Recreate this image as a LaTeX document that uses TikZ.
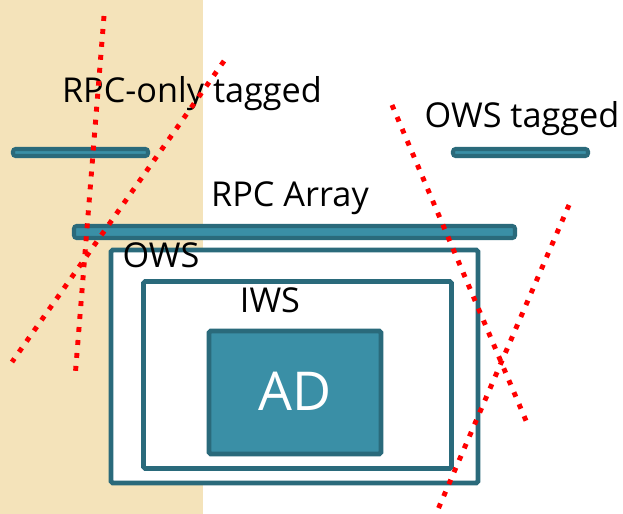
\documentclass[tikz,border=0pt]{standalone}
\usepackage{fontspec}
\setmainfont{Open Sans}
\definecolor{tealdark}{HTML}{2A6A7B}
\definecolor{teallight}{HTML}{3A8FA6}
\definecolor{paper}{HTML}{F4E3BA}

\begin{document}
\begin{tikzpicture}[x=0.02cm, y=-0.02cm,
		bar/.style={draw=tealdark, fill=teallight, line width=2.3pt, rounded corners=1.5pt},
		frame/.style={draw=tealdark, fill=white, line width=2.8pt, rounded corners=1pt},
		cut/.style={red, line width=2.8pt, dash pattern=on 2.8pt off 4.6pt},
		label/.style={font=\fontsize{19.5}{22}\selectfont, inner sep=0pt, anchor=base}]
					\useasboundingbox (0,0) rectangle (623,514);
					\fill[paper] (0,0) rectangle (203,514);
					
					% tag bars and the array
					\draw[bar] (13,149) rectangle (148,156);
					\draw[bar] (453,149) rectangle (588,156);
					\draw[bar] (74,226) rectangle (515,238);
					
					% nested boxes
					\draw[frame] (111,250) rectangle (478,483);
					\draw[frame] (143.5,281.5) rectangle (451.5,468.5);
					\draw[frame, fill=teallight] (209,331) rectangle (381,454);
					
					\node[label] (rpconly) at (192,102) {RPC-only tagged};
					\node[label] (owstag) at (522,127) {OWS tagged};
					\node[label] (rpcarray) at (290,206) {RPC Array};
					\node[label] (ows) at (161,267) {OWS};
					\node[label] (iws) at (270,312) {IWS};
					\node[font=\fontsize{30.5}{34}\selectfont, text=white, inner sep=0pt, anchor=base] (ad) at (295,410) {AD};
					
					% crossing-out lines
					\coordinate (A1) at (104,16);
					\coordinate (A2) at (75,378);
					\coordinate (B1) at (224,61);
					\coordinate (B2) at (12,362);
					\coordinate (C1) at (392,105);
					\coordinate (C2) at (527,423);
					\coordinate (D1) at (569,205);
					\coordinate (D2) at (436,514);
					
					\draw[cut] (A1) -- (A2);
					\draw[cut] (B1) -- (B2);
					\draw[cut] (C1) -- (C2);
					\draw[cut] (D1) -- (D2);
				\end{tikzpicture}
\end{document}
